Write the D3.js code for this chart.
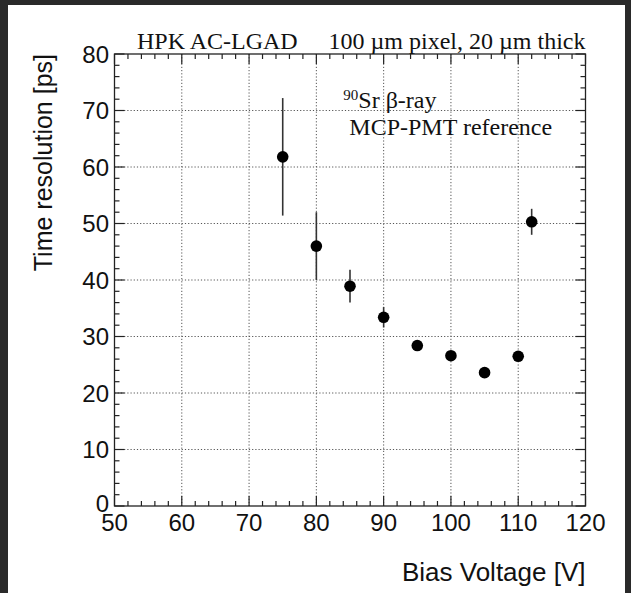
<!DOCTYPE html>
<html>
<head>
<meta charset="utf-8">
<script src="https://cdn.jsdelivr.net/npm/d3@7"></script>
<style>
  body { margin: 0; background: #2a2a2a; }
  svg { display: block; }
  .tick-label { font-family: "Liberation Sans", Arial, sans-serif; font-size: 24px; fill: #111; }
  .serif { font-family: "Liberation Serif", "Times New Roman", serif; fill: #111; }
</style>
</head>
<body>
<div id="chart"></div>
<script>
// Data
var voltages   = [75, 80, 85, 90, 95, 100, 105, 110, 112];
var resolution = [61.8, 46.0, 38.9, 33.4, 28.4, 26.6, 23.6, 26.5, 50.3];
var errors     = [10.4, 6.0, 2.9, 1.8, 0.6, 0.5, 0.4, 0.5, 2.3];
var xTicks = [50, 60, 70, 80, 90, 100, 110, 120];
var yTicks = [0, 10, 20, 30, 40, 50, 60, 70, 80];

var svgWidth = 631;
var svgHeight = 593;

var margin = { top: 54, right: 45.5, bottom: 87, left: 114.5 };
var chartWidth = svgWidth - margin.left - margin.right;
var chartHeight = svgHeight - margin.top - margin.bottom;

var points = voltages.map(function(v, i) {
  return { v: v, t: resolution[i], e: errors[i] };
});

var svg = d3.select("#chart")
  .append("svg")
  .attr("width", svgWidth)
  .attr("height", svgHeight);

// dark frame round the white page
svg.append("rect")
  .attr("width", svgWidth).attr("height", svgHeight)
  .attr("fill", "#2a2a2a");
svg.append("rect")
  .attr("x", 8).attr("y", 5)
  .attr("width", 617).attr("height", svgHeight - 5)
  .attr("fill", "#fff");

var chartGroup = svg.append("g")
  .attr("transform", `translate(${margin.left}, ${margin.top})`);

var xScale = d3.scaleLinear().domain([50, 120]).range([0, chartWidth]);
var yScale = d3.scaleLinear().domain([0, 80]).range([chartHeight, 0]);

// grid (dotted)
chartGroup.selectAll(".vgrid")
  .data(xTicks.slice(1, -1))
  .enter().append("line")
  .attr("x1", d => xScale(d)).attr("x2", d => xScale(d))
  .attr("y1", 0).attr("y2", chartHeight)
  .attr("stroke", "#555").attr("stroke-width", 1)
  .attr("stroke-dasharray", "1.2,2");

chartGroup.selectAll(".hgrid")
  .data(yTicks.slice(1, -1))
  .enter().append("line")
  .attr("x1", 0).attr("x2", chartWidth)
  .attr("y1", d => yScale(d)).attr("y2", d => yScale(d))
  .attr("stroke", "#555").attr("stroke-width", 1)
  .attr("stroke-dasharray", "1.2,2");

// ROOT style axes: ticks inward on all four sides, minor ticks every 2 units
var xMinor = d3.range(50, 120.01, 2);
var yMinor = d3.range(0, 80.01, 2);
var major = 10, minor = 5;

function isMajor(v) { return Math.abs(v % 10) < 1e-6; }

var tickColor = "#222";
var ticks = chartGroup.append("g").attr("stroke", tickColor).attr("stroke-width", 1.2);

xMinor.forEach(function(v) {
  var len = isMajor(v) ? major : minor;
  ticks.append("line")
    .attr("x1", xScale(v)).attr("x2", xScale(v))
    .attr("y1", chartHeight).attr("y2", chartHeight - len);
  ticks.append("line")
    .attr("x1", xScale(v)).attr("x2", xScale(v))
    .attr("y1", 0).attr("y2", len);
});

yMinor.forEach(function(v) {
  var len = isMajor(v) ? major : minor;
  ticks.append("line")
    .attr("x1", 0).attr("x2", len)
    .attr("y1", yScale(v)).attr("y2", yScale(v));
  ticks.append("line")
    .attr("x1", chartWidth).attr("x2", chartWidth - len)
    .attr("y1", yScale(v)).attr("y2", yScale(v));
});

chartGroup.append("rect")
  .attr("width", chartWidth).attr("height", chartHeight)
  .attr("fill", "none").attr("stroke", tickColor).attr("stroke-width", 1.3);

// tick labels
chartGroup.selectAll(".xlab")
  .data(xTicks)
  .enter().append("text")
  .attr("class", "tick-label")
  .attr("x", d => xScale(d))
  .attr("y", chartHeight + 25)
  .attr("text-anchor", "middle")
  .text(d => d);

chartGroup.selectAll(".ylab")
  .data(yTicks)
  .enter().append("text")
  .attr("class", "tick-label")
  .attr("x", -5.5)
  .attr("y", d => yScale(d) + (d === 0 ? 6 : 8.6))
  .attr("text-anchor", "end")
  .text(d => d);

// axis titles
svg.append("text")
  .attr("class", "tick-label")
  .attr("x", margin.left + chartWidth)
  .attr("y", 581)
  .attr("text-anchor", "end")
  .style("font-size", "26px")
  .text("Bias Voltage [V]");

svg.append("text")
  .attr("class", "tick-label")
  .attr("transform", `translate(52, ${margin.top}) rotate(-90)`)
  .attr("text-anchor", "end")
  .style("font-size", "25px")
  .text("Time resolution [ps]");

// title
svg.append("text")
  .attr("class", "serif")
  .attr("x", 137).attr("y", 49.3)
  .style("font-size", "24px")
  .text("HPK AC-LGAD");

svg.append("text")
  .attr("class", "serif")
  .attr("x", margin.left + chartWidth).attr("y", 49.3)
  .attr("text-anchor", "end")
  .style("font-size", "24px")
  .text("100 µm pixel, 20 µm thick");

// annotation
var note = chartGroup.append("text")
  .attr("class", "serif")
  .attr("x", 343.3 - margin.left).attr("y", 108.3 - margin.top)
  .style("font-size", "24px");
note.append("tspan").attr("dy", -8).style("font-size", "15px").text("90");
note.append("tspan").attr("dy", 8).text("Sr β-ray");

chartGroup.append("text")
  .attr("class", "serif")
  .attr("x", 349.3 - margin.left).attr("y", 135 - margin.top)
  .style("font-size", "24px")
  .text("MCP-PMT reference");

// error bars
chartGroup.selectAll(".err")
  .data(points)
  .enter().append("line")
  .attr("x1", d => xScale(d.v)).attr("x2", d => xScale(d.v))
  .attr("y1", d => yScale(d.t + d.e)).attr("y2", d => yScale(d.t - d.e))
  .attr("stroke", "#333").attr("stroke-width", 1.6);

// markers
chartGroup.selectAll("circle")
  .data(points)
  .enter().append("circle")
  .attr("cx", d => xScale(d.v))
  .attr("cy", d => yScale(d.t))
  .attr("r", 5.8)
  .attr("fill", "#000");
</script>
</body>
</html>
